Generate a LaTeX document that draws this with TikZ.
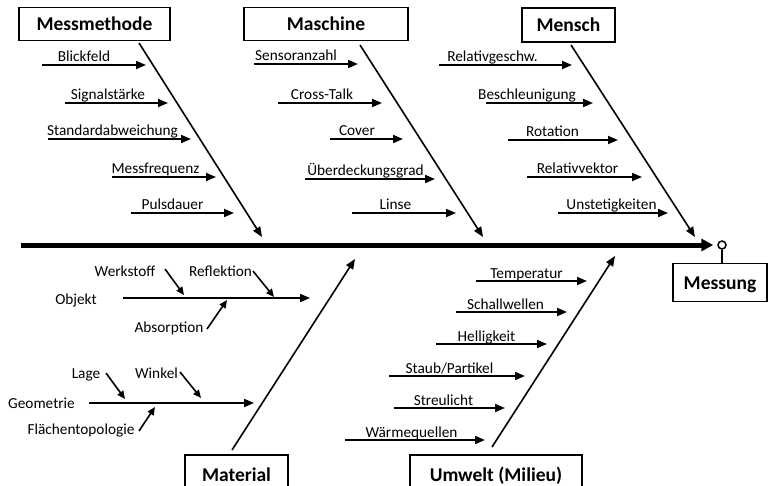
\documentclass[tikz,border=0pt]{standalone}
\usepackage{fontspec}
\setmainfont{Carlito}
\usetikzlibrary{arrows.meta}
\tikzset{
  lbl/.style={font=\fontsize{15.3}{17}\selectfont, inner sep=0pt, anchor=base},
  catbox/.style={draw, line width=1.8pt, font=\bfseries\fontsize{19.5}{22}\selectfont, inner sep=0pt, text height=13pt, text depth=0pt},
  arr/.style={line width=1.8pt, -{Triangle[length=10pt,width=8pt]}},
  diag/.style={line width=1.6pt, -{Triangle[length=10pt,width=8pt]}},
  smallarr/.style={line width=1.6pt, -{Triangle[length=8pt,width=7pt]}},
}
% \branch{name}{x start}{x end}{y}{text centre x}{text}
\newcommand\branch[6]{%
  \coordinate (#1-s) at (#2,#4);
  \coordinate (#1-e) at (#3,#4);
  \node[lbl] (#1-t) at (#5,#4-3) {#6};
  \draw[arr] (#1-s) -- (#1-e);
}
\begin{document}
\begin{tikzpicture}[x=1pt,y=-1pt]
\useasboundingbox (0,0) rectangle (770,486);
\clip (0,0) rectangle (770,486);

% spine and effect
\coordinate (spine-s) at (21,245);
\node[circle, draw, line width=1.5pt, minimum size=8pt, inner sep=0pt] (head) at (722,245) {};
\node[catbox, minimum width=94pt, minimum height=38pt] (messung) at (720,282.5) {Messung};
\draw[line width=5pt, -{Triangle[length=12pt,width=12pt]}, shorten >=4pt] (spine-s) -- (head.west);
\draw[line width=1.5pt] (head.south) -- (messung.north -| head.south);

% category boxes
\node[catbox, minimum width=151pt, minimum height=33pt] (messmethode) at (94.5,24) {Messmethode};
\node[catbox, minimum width=164pt, minimum height=33pt] (maschine) at (326,24) {Maschine};
\node[catbox, minimum width=93pt, minimum height=34pt] (mensch) at (568.5,25) {Mensch};
\node[catbox, minimum width=103pt, minimum height=40pt] (material) at (236.5,475) {Material};
\node[catbox, minimum width=172pt, minimum height=40pt] (umwelt) at (496,475) {Umwelt (Milieu)};

% diagonals
\coordinate (mm-s) at (139,43);  \coordinate (mm-e) at (262,237);
\coordinate (ma-s) at (360,45);  \coordinate (ma-e) at (483,237);
\coordinate (me-s) at (571,45);  \coordinate (me-e) at (695,237);
\coordinate (mt-s) at (232,450); \coordinate (mt-e) at (355,259);
\coordinate (um-s) at (492,447); \coordinate (um-e) at (615,256);
\draw[diag] (mm-s) -- (mm-e);
\draw[diag] (ma-s) -- (ma-e);
\draw[diag] (me-s) -- (me-e);
\draw[diag] (mt-s) -- (mt-e);
\draw[diag] (um-s) -- (um-e);

% Messmethode
\branch{b1}{42}{146}{65}{84}{Blickfeld}
\branch{b2}{65}{168}{103}{108}{Signalstärke}
\branch{b3}{48}{191}{139}{112.5}{Standardabweichung}
\branch{b4}{112}{216}{177}{155.5}{Messfrequenz}
\branch{b5}{131}{234}{213}{172.5}{Pulsdauer}

% Maschine
\branch{c1}{254}{358}{64}{296}{Sensoranzahl}
\branch{c2}{278}{382}{103}{322}{Cross-Talk}
\branch{c3}{330}{403}{139}{357}{Cover}
\branch{c4}{305}{435}{179}{365.5}{Überdeckungsgrad}
\branch{c5}{352}{456}{213}{395.5}{Linse}

% Mensch
\branch{d1}{439}{572}{65}{492.5}{Relativgeschw.}
\branch{d2}{486}{593}{103}{527}{Beschleunigung}
\branch{d3}{508}{618}{140}{552.5}{Rotation}
\branch{d4}{527}{642}{177}{577.5}{Relativvektor}
\branch{d5}{558}{668}{213}{611.5}{Unstetigkeiten}

% Umwelt
\branch{e1}{476}{587}{281}{526.5}{Temperatur}
\branch{e2}{456}{567}{312}{505.5}{Schallwellen}
\branch{e3}{436}{547}{344}{486.5}{Helligkeit}
\branch{e4}{389}{525}{376}{449.5}{Staub/Partikel}
\branch{e5}{394}{505}{408}{443.5}{Streulicht}
\branch{e6}{345}{485}{440}{411.5}{Wärmequellen}

% Material: Objekt
\node[lbl] (objekt) at (76,304) {Objekt};
\coordinate (obj-s) at (123,298); \coordinate (obj-e) at (310,298);
\draw[arr] (obj-s) -- (obj-e);
\node[lbl] (werkstoff) at (125,276) {Werkstoff};
\node[lbl] (reflektion) at (220.5,276) {Reflektion};
\node[lbl] (absorption) at (169,332) {Absorption};
\coordinate (wk-s) at (165,269); \coordinate (wk-e) at (184,295);
\coordinate (rf-s) at (253,271); \coordinate (rf-e) at (274,297);
\coordinate (ab-s) at (207,329); \coordinate (ab-e) at (227,300);
\draw[smallarr] (wk-s) -- (wk-e);
\draw[smallarr] (rf-s) -- (rf-e);
\draw[smallarr] (ab-s) -- (ab-e);

% Material: Geometrie
\node[lbl] (geometrie) at (41.5,408) {Geometrie};
\coordinate (geo-s) at (89,403); \coordinate (geo-e) at (254,403);
\draw[arr] (geo-s) -- (geo-e);
\node[lbl] (lage) at (86,378) {Lage};
\node[lbl] (winkel) at (156.5,378) {Winkel};
\node[lbl] (flaechen) at (81,434) {Flächentopologie};
\coordinate (lg-s) at (106,373); \coordinate (lg-e) at (125,399);
\coordinate (wi-s) at (180,372); \coordinate (wi-e) at (201,398);
\coordinate (fl-s) at (139,431); \coordinate (fl-e) at (155,407);
\draw[smallarr] (lg-s) -- (lg-e);
\draw[smallarr] (wi-s) -- (wi-e);
\draw[smallarr] (fl-s) -- (fl-e);
\end{tikzpicture}
\end{document}
